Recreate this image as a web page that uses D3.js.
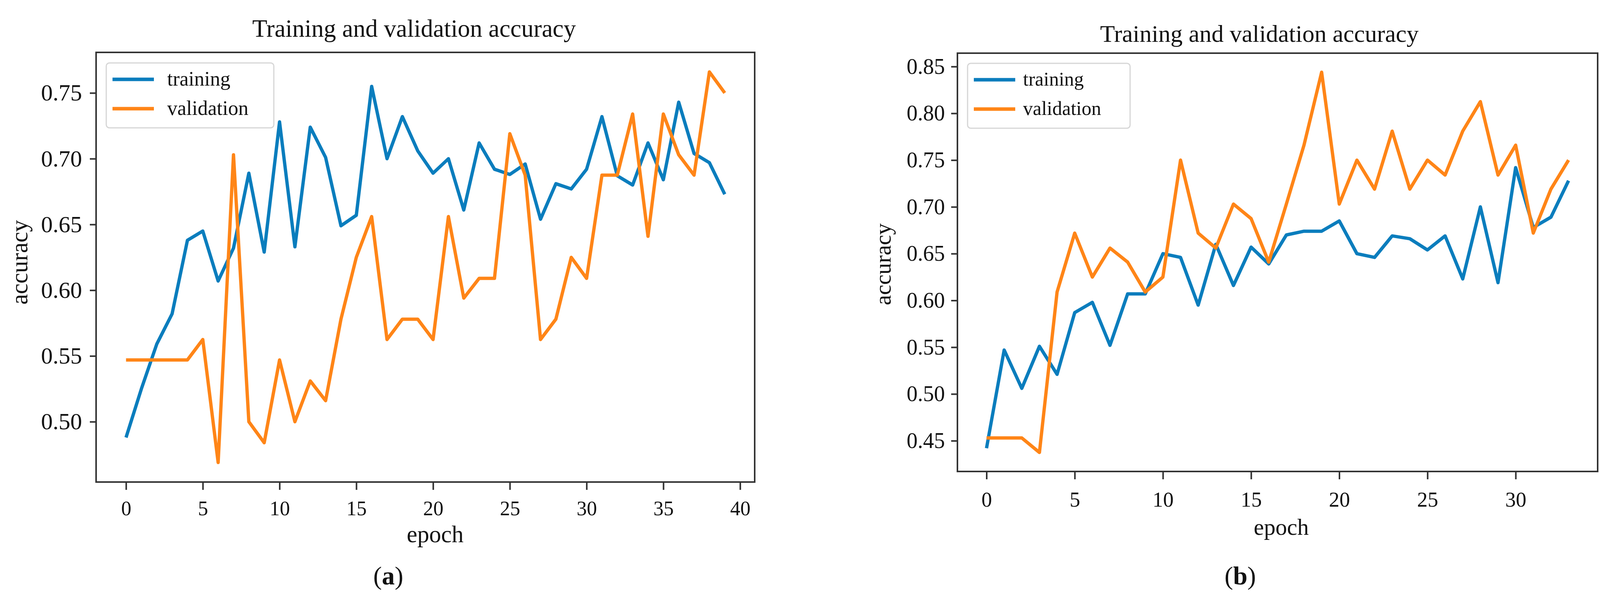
<!DOCTYPE html>
<html>
<head>
<meta charset="utf-8">
<script src="https://d3js.org/d3.v7.min.js"></script>
<style>
body { margin: 0; padding: 0; background: #fff; }
svg text { font-family: "Liberation Serif", "DejaVu Serif", serif; fill: #111; }
.tick line { stroke: #333; stroke-width: 4; }
</style>
</head>
<body>
<svg id="chart" width="4117" height="1545"></svg>
<script>

// panel (a): 40 epochs
var epochsA = d3.range(0, 40);
var trainA = [0.488, 0.525, 0.559, 0.582, 0.638, 0.645, 0.607, 0.632, 0.689, 0.629,
              0.728, 0.633, 0.724, 0.701, 0.649, 0.657, 0.755, 0.700, 0.732, 0.706,
              0.689, 0.700, 0.661, 0.712, 0.692, 0.688, 0.696, 0.654, 0.681, 0.677,
              0.692, 0.732, 0.687, 0.680, 0.712, 0.684, 0.743, 0.704, 0.697, 0.673];
var valA   = [0.547, 0.547, 0.547, 0.547, 0.547, 0.5625, 0.469, 0.703, 0.500, 0.484,
              0.547, 0.500, 0.531, 0.516, 0.578, 0.625, 0.656, 0.5625, 0.578, 0.578,
              0.5625, 0.656, 0.594, 0.609, 0.609, 0.719, 0.6875, 0.5625, 0.578, 0.625,
              0.609, 0.6875, 0.6875, 0.734, 0.641, 0.734, 0.703, 0.6875, 0.766, 0.750];

// panel (b): 34 epochs
var epochsB = d3.range(0, 34);
var trainB = [0.442, 0.547, 0.506, 0.551, 0.521, 0.587, 0.598, 0.552, 0.607, 0.607,
              0.650, 0.646, 0.595, 0.660, 0.616, 0.657, 0.639, 0.670, 0.674, 0.674,
              0.685, 0.650, 0.646, 0.669, 0.666, 0.654, 0.669, 0.623, 0.700, 0.619,
              0.742, 0.678, 0.689, 0.728];
var valB   = [0.453, 0.453, 0.453, 0.4375, 0.609, 0.672, 0.625, 0.656, 0.641, 0.609,
              0.625, 0.750, 0.672, 0.656, 0.703, 0.6875, 0.641, 0.703, 0.766, 0.844,
              0.703, 0.750, 0.719, 0.781, 0.719, 0.750, 0.734, 0.781, 0.8125, 0.734,
              0.766, 0.672, 0.719, 0.750];

var seriesNames = ["training", "validation"];
var seriesColors = ["#0a7dbd", "#ff8517"];
var xTicksA = [0, 5, 10, 15, 20, 25, 30, 35, 40];
var xTicksB = [0, 5, 10, 15, 20, 25, 30];
var yTicksA = [0.50, 0.55, 0.60, 0.65, 0.70, 0.75];
var yTicksB = [0.45, 0.50, 0.55, 0.60, 0.65, 0.70, 0.75, 0.80, 0.85];

var svg = d3.select("#chart");
svg.append("rect").attr("width", 4117).attr("height", 1545).attr("fill", "#fff");

// matplotlib style 5% margins
function padded(ext) {
  var m = (ext[1] - ext[0]) * 0.05;
  return [ext[0] - m, ext[1] + m];
}

function panel(p) {
  var x = d3.scaleLinear()
      .domain(padded(d3.extent(p.epochs)))
      .range([p.left, p.right]);
  var y = d3.scaleLinear()
      .domain(padded(d3.extent(p.train.concat(p.val))))
      .range([p.bottom, p.top]);

  var g = svg.append("g");

  var line = d3.line()
      .x(function(d, i) { return x(p.epochs[i]); })
      .y(function(d) { return y(d); });

  [p.train, p.val].forEach(function(s, k) {
    g.append("path")
      .datum(s)
      .attr("d", line)
      .attr("fill", "none")
      .attr("stroke", seriesColors[k])
      .attr("stroke-width", 8.5)
      .attr("stroke-linejoin", "round");
  });

  // spines
  g.append("rect")
    .attr("x", p.left).attr("y", p.top)
    .attr("width", p.right - p.left).attr("height", p.bottom - p.top)
    .attr("fill", "none").attr("stroke", "#333").attr("stroke-width", 4);

  var xa = g.append("g")
    .attr("transform", "translate(0," + p.bottom + ")")
    .call(d3.axisBottom(x).tickValues(p.xTicks).tickSize(20).tickPadding(p.xPad).tickFormat(d3.format("d")));
  xa.select(".domain").remove();
  xa.selectAll("text").style("font-size", p.xFont + "px").attr("fill", "#111");

  var ya = g.append("g")
    .attr("transform", "translate(" + p.left + ",0)")
    .call(d3.axisLeft(y).tickValues(p.yTicks).tickSize(16).tickPadding(p.yPad).tickFormat(d3.format(".2f")));
  ya.select(".domain").remove();
  ya.selectAll("text").style("font-size", p.yFont + "px").attr("fill", "#111");

  g.append("text")
    .attr("x", p.titleX).attr("y", p.titleY)
    .attr("text-anchor", "middle")
    .style("font-size", p.titleFont + "px")
    .text("Training and validation accuracy");

  g.append("text")
    .attr("x", p.xLabelX).attr("y", p.xLabelY)
    .attr("text-anchor", "middle")
    .style("font-size", p.labelFont + "px")
    .text("epoch");

  g.append("text")
    .attr("transform", "translate(" + p.yLabelX + "," + p.yLabelY + ") rotate(-90)")
    .attr("text-anchor", "middle")
    .style("font-size", p.labelFont + "px")
    .text("accuracy");

  g.append("text")
    .attr("x", p.tagX).attr("y", 1495)
    .attr("text-anchor", "middle")
    .style("font-size", "66px")
    .html("(<tspan font-weight='bold'>" + p.tag + "</tspan>)");

  // legend
  var lg = g.append("g");
  lg.append("rect")
    .attr("x", p.legX).attr("y", p.legY)
    .attr("width", p.legW).attr("height", 166)
    .attr("rx", 8)
    .attr("fill", "#fff").attr("fill-opacity", 0.8)
    .attr("stroke", "#d6d6d6").attr("stroke-width", 3);
  seriesNames.forEach(function(name, k) {
    var ly = p.legY + 42 + k * 75;
    lg.append("line")
      .attr("x1", p.legX + 16).attr("x2", p.legX + 122)
      .attr("y1", ly).attr("y2", ly)
      .attr("stroke", seriesColors[k]).attr("stroke-width", 9);
    lg.append("text")
      .attr("x", p.legX + p.legTextOff).attr("y", ly)
      .attr("dy", "0.3em")
      .style("font-size", p.legFont + "px")
      .text(name);
  });
}

panel({
  epochs: epochsA, train: trainA, val: valA,
  xTicks: xTicksA, yTicks: yTicksA,
  left: 246, right: 1932, top: 134, bottom: 1233,
  xPad: 28, yPad: 20, xFont: 52, yFont: 60,
  titleX: 1060, titleY: 94, titleFont: 63,
  xLabelX: 1114, xLabelY: 1387, yLabelX: 70, yLabelY: 671, labelFont: 61,
  tagX: 994, tag: "a",
  legX: 272, legY: 161, legW: 429, legTextOff: 156, legFont: 52
});

panel({
  epochs: epochsB, train: trainB, val: valB,
  xTicks: xTicksB, yTicks: yTicksB,
  left: 2451, right: 4090, top: 136, bottom: 1206,
  xPad: 32, yPad: 16, xFont: 54, yFont: 56,
  titleX: 3224, titleY: 107, titleFont: 62,
  xLabelX: 3280, xLabelY: 1368, yLabelX: 2280, yLabelY: 676, labelFont: 59,
  tagX: 3175, tag: "b",
  legX: 2477, legY: 162, legW: 416, legTextOff: 142, legFont: 50
});

</script>
</body>
</html>
